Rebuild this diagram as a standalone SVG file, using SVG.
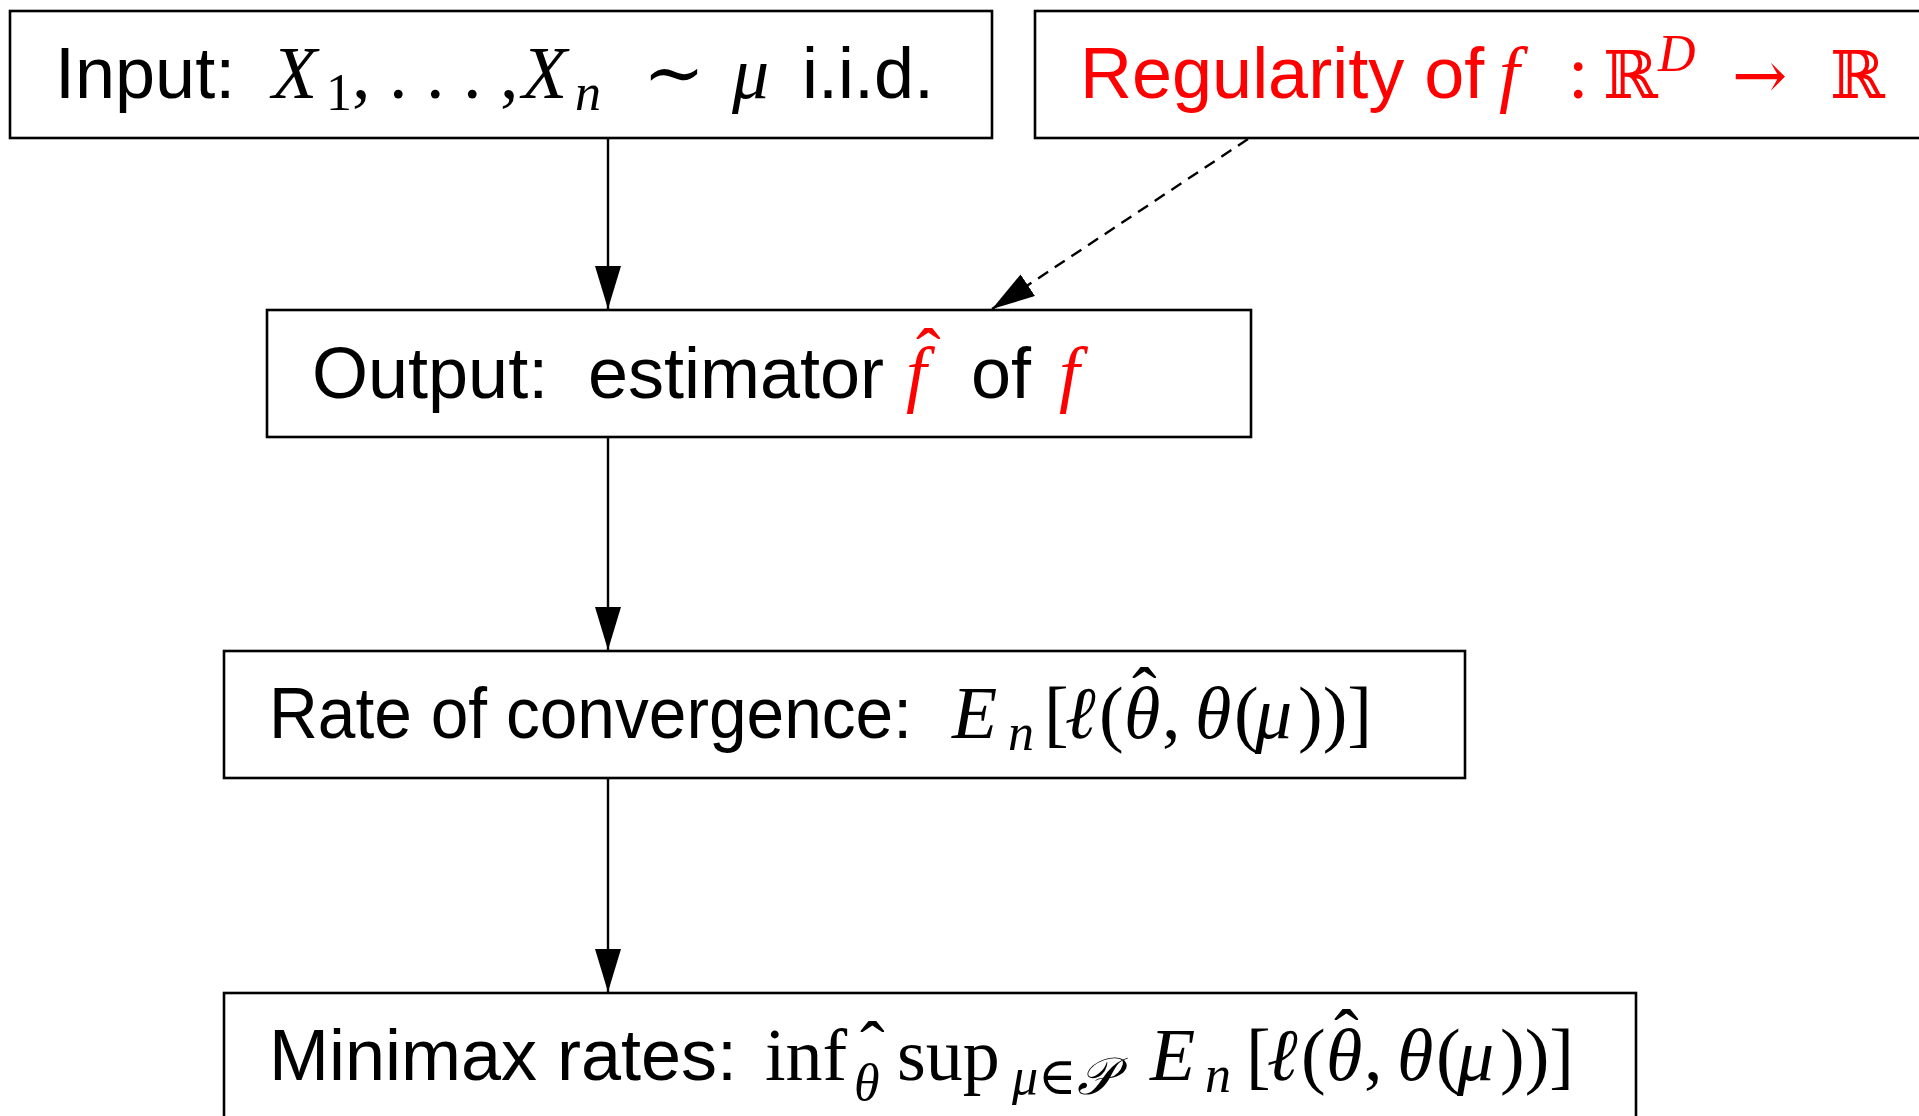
<svg xmlns="http://www.w3.org/2000/svg" width="1919" height="1116" viewBox="0 0 1919 1116">
<style>
.box{fill:#fff;stroke:#000;stroke-width:2.6}
.sans{font-family:"Liberation Sans","DejaVu Sans",sans-serif;font-size:72px;fill:#000}
.mi{font-family:"Liberation Serif","DejaVu Serif",serif;font-style:italic;font-size:74px;fill:#000}
.mr{font-family:"Liberation Serif","DejaVu Serif",serif;font-size:74px;fill:#000}
.bb{font-family:"DejaVu Serif","DejaVu Sans",serif;font-size:66px}
.sub{font-size:52px}
.red{fill:#ff0000}
.conn{stroke:#000;stroke-width:2.4;fill:none}
.dash{stroke-dasharray:12 8}
</style>
<defs>
<marker id="ah" markerUnits="userSpaceOnUse" markerWidth="44" markerHeight="28" refX="43" refY="13" orient="auto">
<path d="M0,0 L43,13 L0,26 z" fill="#000"/>
</marker>
</defs>
<g id="connectors">
<line class="conn" x1="608" y1="138" x2="608" y2="309" marker-end="url(#ah)"/>
<line class="conn dash" x1="1248" y1="139" x2="992" y2="309" marker-end="url(#ah)"/>
<line class="conn" x1="608" y1="437" x2="608" y2="650" marker-end="url(#ah)"/>
<line class="conn" x1="608" y1="778" x2="608" y2="992" marker-end="url(#ah)"/>
</g>
<g id="node-input">
<rect class="box" x="10" y="11" width="982" height="127"/>
<text class="sans" x="55" y="98">Input:</text>
<text class="mi" x="272" y="98">X</text>
<text class="mr sub" x="326" y="110">1</text>
<text class="mr" x="352" y="98">, . . . ,</text>
<text class="mi" x="522" y="98">X</text>
<text class="mi sub" x="575" y="110">n</text>
<text class="mr" x="643" y="98">∼</text>
<text class="mi" x="732" y="98">μ</text>
<text class="sans" x="802" y="98">i.i.d.</text>
</g>
<g id="node-regularity">
<rect class="box" x="1035" y="11" width="900" height="127"/>
<text class="sans red" x="1080" y="98">Regularity of</text>
<text class="mi red" x="1499" y="98">f</text>
<text class="mr red" x="1568" y="98">:</text>
<text class="bb red" x="1603" y="98">ℝ</text>
<text class="mi sub red" x="1658" y="71">D</text>
<text class="bb red" x="1732" y="98" font-size="74">→</text>
<text class="bb red" x="1830" y="98">ℝ</text>
</g>
<g id="node-output">
<rect class="box" x="267" y="310" width="984" height="127"/>
<text class="sans" x="312" y="398">Output:</text>
<text class="sans" x="588" y="398">estimator</text>
<text class="mi red" x="906" y="398">f</text>
<text class="mr red" x="916" y="380" font-size="56">ˆ</text>
<text class="sans" x="971" y="398">of</text>
<text class="mi red" x="1059" y="398">f</text>
</g>
<g id="node-rate">
<rect class="box" x="224" y="651" width="1241" height="127"/>
<text class="sans" x="269" y="738" textLength="643" lengthAdjust="spacingAndGlyphs">Rate of convergence:</text>
<text class="mi" x="952" y="738">E</text>
<text class="mi sub" x="1008" y="750">n</text>
<text class="mr" x="1044" y="738">[</text>
<text class="mi" x="1065" y="738">ℓ</text>
<text class="mr" x="1099" y="738">(</text>
<text class="mi" x="1124" y="738">θ</text>
<text class="mr" x="1132" y="719" font-size="56">ˆ</text>
<text class="mr" x="1162" y="738">,</text>
<text class="mi" x="1195" y="738">θ</text>
<text class="mr" x="1234" y="738">(</text>
<text class="mi" x="1255" y="738">μ</text>
<text class="mr" x="1298" y="738">))]</text>
</g>
<g id="node-minimax">
<rect class="box" x="224" y="993" width="1412" height="140"/>
<text class="sans" x="269" y="1080">Minimax rates:</text>
<text class="mr" x="765" y="1080">inf</text>
<text class="mi sub" x="854" y="1100">θ</text>
<text class="mr" x="860" y="1073" font-size="40">ˆ</text>
<text class="mr" x="897" y="1080">sup</text>
<text class="mi sub" x="1012" y="1094">μ∈𝒫</text>
<text class="mi" x="1150" y="1080">E</text>
<text class="mi sub" x="1205" y="1092">n</text>
<text class="mr" x="1246" y="1080">[</text>
<text class="mi" x="1267" y="1080">ℓ</text>
<text class="mr" x="1301" y="1080">(</text>
<text class="mi" x="1326" y="1080">θ</text>
<text class="mr" x="1334" y="1061" font-size="56">ˆ</text>
<text class="mr" x="1364" y="1080">,</text>
<text class="mi" x="1397" y="1080">θ</text>
<text class="mr" x="1436" y="1080">(</text>
<text class="mi" x="1457" y="1080">μ</text>
<text class="mr" x="1500" y="1080">))]</text>
</g>
</svg>
